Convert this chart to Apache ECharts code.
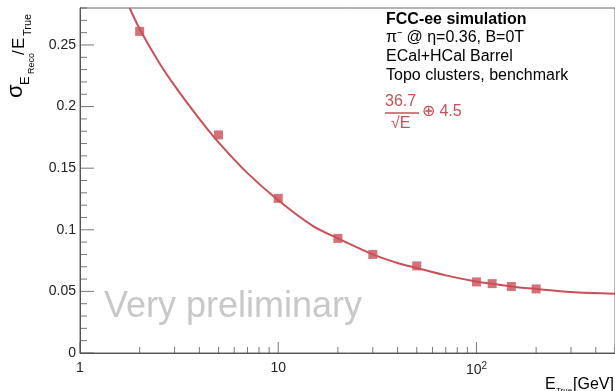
<!DOCTYPE html>
<html>
<head>
<meta charset="utf-8">
<script src="https://cdn.jsdelivr.net/npm/echarts@6/dist/echarts.min.js"></script>
<style>
  html, body { margin: 0; padding: 0; background: #fff; }
  #chart { width: 615px; height: 391px; }
</style>
</head>
<body>
<div id="chart"></div>
<script>
// measured points (E in GeV, sigma/E)
var energies = [2, 5, 10, 20, 30, 50, 100, 120, 150, 200];
var resolution = [0.261, 0.177, 0.1255, 0.093, 0.080, 0.0707, 0.0577, 0.0563, 0.054, 0.052];

// fit curve
var fitE = [1.78, 2, 2.5, 3, 4, 5, 7, 10, 15, 20, 30, 40, 50, 70, 100, 150, 200, 300, 500];
var fitRes = [0.280, 0.263, 0.236, 0.217, 0.190, 0.171, 0.146, 0.124, 0.103, 0.093, 0.080, 0.073, 0.069, 0.063, 0.058, 0.054, 0.052, 0.0495, 0.048];

// ticks
var xMajor = [1, 10, 100];
var xMinor = [2, 3, 4, 5, 6, 7, 8, 9, 20, 30, 40, 50, 60, 70, 80, 90, 200, 300, 400, 500];
var yMajor = [0, 0.05, 0.1, 0.15, 0.2, 0.25];
var yMinor = [0.01, 0.02, 0.03, 0.04, 0.06, 0.07, 0.08, 0.09, 0.11, 0.12, 0.13, 0.14,
  0.16, 0.17, 0.18, 0.19, 0.21, 0.22, 0.23, 0.24, 0.26, 0.27, 0.28];

var font = 'Liberation Sans, Arial, sans-serif';
var red = '#cb4f57';
var axisCol = '#555';

var chart = echarts.init(document.getElementById('chart'));

function pairs(xs, ys) {
  return xs.map(function (x, i) { return [x, ys[i]]; });
}

// ROOT style ticks inside the frame, as thin rect symbols sitting on the axes
function xTicks(vals, len) {
  return {
    type: 'scatter', silent: true, clip: false, z: 4,
    data: vals.map(function (v) { return [v, 0]; }),
    symbol: 'rect', symbolSize: [1, len], symbolOffset: [0, -len / 2],
    itemStyle: { color: axisCol }
  };
}
function yTicks(vals, len) {
  return {
    type: 'scatter', silent: true, clip: false, z: 4,
    data: vals.map(function (v) { return [1, v]; }),
    symbol: 'rect', symbolSize: [len, 1], symbolOffset: [len / 2, 0],
    itemStyle: { color: axisCol }
  };
}

var texts = [
  // y axis title, rotated
  {
    type: 'group', x: 27, y: 98, rotation: Math.PI / 2,
    children: [
      { type: 'text', x: 0, y: 0, style: { text: 'σ', font: '22px ' + font, fill: '#000', verticalAlign: 'bottom' } },
      { type: 'text', x: 13, y: 5, style: { text: 'E', font: '13px ' + font, fill: '#000', verticalAlign: 'bottom' } },
      { type: 'text', x: 24, y: 9, style: { text: 'Reco', font: '9px ' + font, fill: '#000', verticalAlign: 'bottom' } },
      { type: 'text', x: 43, y: 1, style: { text: '/', font: '17px ' + font, fill: '#000', verticalAlign: 'bottom' } },
      { type: 'text', x: 49, y: 1, style: { text: 'E', font: '17px ' + font, fill: '#000', verticalAlign: 'bottom' } },
      { type: 'text', x: 62, y: 6, style: { text: 'True', font: '11px ' + font, fill: '#000', verticalAlign: 'bottom' } }
    ]
  },
  // x axis title
  { type: 'text', x: 545, y: 393, style: { text: 'E', font: '16px ' + font, fill: '#000', verticalAlign: 'bottom' } },
  { type: 'text', x: 556, y: 395, style: { text: 'True', font: '8px ' + font, fill: '#000', verticalAlign: 'bottom' } },
  { type: 'text', x: 573, y: 393, style: { text: '[GeV]', font: '16px ' + font, fill: '#000', verticalAlign: 'bottom' } },
  // annotation
  { type: 'text', x: 386, y: 20, style: { text: 'FCC-ee simulation', font: 'bold 16px ' + font, fill: '#000', verticalAlign: 'middle' } },
  { type: 'text', x: 386, y: 38, style: { text: 'π⁻ @ η=0.36, B=0T', font: '16px ' + font, fill: '#000', verticalAlign: 'middle' } },
  { type: 'text', x: 386, y: 57, style: { text: 'ECal+HCal Barrel', font: '16px ' + font, fill: '#000', verticalAlign: 'middle' } },
  { type: 'text', x: 386, y: 76, style: { text: 'Topo clusters, benchmark', font: '16px ' + font, fill: '#000', verticalAlign: 'middle' } },
  // fit formula
  { type: 'text', x: 385, y: 102, style: { text: '36.7', font: '16px ' + font, fill: red, verticalAlign: 'middle' } },
  { type: 'line', shape: { x1: 385, y1: 113, x2: 419, y2: 113 }, style: { stroke: red, lineWidth: 1.5 } },
  { type: 'text', x: 391, y: 124, style: { text: '√E', font: '16px ' + font, fill: red, verticalAlign: 'middle' } },
  { type: 'text', x: 422, y: 112, style: { text: '⊕ 4.5', font: '16px ' + font, fill: red, verticalAlign: 'middle' } },
  // watermark
  { type: 'text', x: 104, y: 307, z: 1, style: { text: 'Very preliminary', font: '36px ' + font, fill: '#c8c8c8', verticalAlign: 'middle' } }
];

var option = {
  animation: false,
  grid: {
    left: 80, right: 0, top: 8, bottom: 38, outerBoundsMode: 'none',
    show: true, borderColor: '#666', borderWidth: 1, backgroundColor: 'transparent'
  },
  xAxis: {
    type: 'log', logBase: 10, min: 1, max: 500,
    axisLine: { onZero: false, lineStyle: { color: axisCol } },
    axisTick: { show: false },
    axisLabel: {
      customValues: xMajor, margin: 8, color: '#222', fontSize: 14, fontFamily: font,
      formatter: function (v) { return v >= 100 ? '10{sup|2}' : String(v); },
      rich: { sup: { fontSize: 10, fontFamily: font, color: '#222', padding: [0, 0, 8, 0] } }
    },
    splitLine: { show: false }
  },
  yAxis: {
    type: 'value', min: 0, max: 0.28,
    axisLine: { show: true, lineStyle: { color: axisCol } },
    axisTick: { show: false },
    axisLabel: { customValues: yMajor, margin: 4, color: '#222', fontSize: 14, fontFamily: font },
    splitLine: { show: false }
  },
  series: [
    {
      type: 'line', data: pairs(fitE, fitRes), smooth: 0.3, showSymbol: false,
      lineStyle: { color: red, width: 2 }, z: 2
    },
    {
      type: 'scatter', data: pairs(energies, resolution), symbol: 'rect', symbolSize: 9,
      itemStyle: { color: red }, z: 3
    },
    xTicks(xMajor, 11),
    xTicks(xMinor, 6),
    yTicks(yMajor, 14),
    yTicks(yMinor, 7)
  ],
  graphic: texts
};

chart.setOption(option);
</script>
</body>
</html>
